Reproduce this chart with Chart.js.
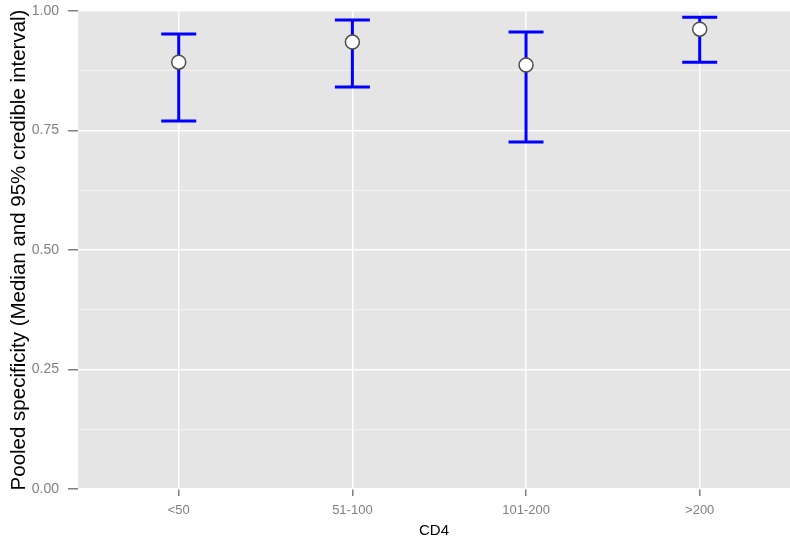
<!DOCTYPE html>
<html lang="en">

<head>
  <meta charset="UTF-8">
  <script src="https://cdn.jsdelivr.net/npm/chart.js@4.4.0/dist/chart.umd.min.js"></script>
  <style>
    body {
      margin: 0;
      background: #fff;
    }
  </style>
  <title>Pooled specificity by CD4</title>
</head>

<body>
  <canvas id="chart" width="790" height="541"></canvas>

  <script>
    // CD4 groups and the pooled specificity estimates
    const categories = ['<50', '51-100', '101-200', '>200'];
    const medians = [0.893, 0.935, 0.887, 0.962];
    const lower = [0.770, 0.841, 0.726, 0.893];
    const upper = [0.952, 0.981, 0.956, 0.987];

    const grey = '#7f7f7f';
    const font = "'Liberation Sans', Arial, sans-serif";
    const isMajor = function (v) { return Math.abs(v * 4 - Math.round(v * 4)) < 1e-6 };

    // grey panel like ggplot
    const panelBg = {
      id: 'panelBg',
      beforeDraw(chart) {
        const a = chart.chartArea;
        const ctx = chart.ctx;
        ctx.save();
        ctx.fillStyle = '#e5e5e5';
        ctx.fillRect(a.left, a.top, a.right - a.left, a.bottom - a.top);
        ctx.restore();
      }
    };

    // credible interval bars, drawn under the median points
    const errorBars = {
      id: 'errorBars',
      beforeDatasetsDraw(chart) {
        const ctx = chart.ctx;
        const xs = chart.scales.x;
        const ys = chart.scales.y;
        ctx.save();
        ctx.strokeStyle = '#0000ff';
        ctx.lineWidth = 3;
        categories.forEach(function (c, i) {
          const x = xs.getPixelForValue(i);
          const y0 = ys.getPixelForValue(lower[i]);
          const y1 = ys.getPixelForValue(upper[i]);
          const half = 17.5;
          ctx.beginPath();
          ctx.moveTo(x, y0);
          ctx.lineTo(x, y1);
          ctx.moveTo(x - half, y0);
          ctx.lineTo(x + half, y0);
          ctx.moveTo(x - half, y1);
          ctx.lineTo(x + half, y1);
          ctx.stroke();
        });
        ctx.restore();
      }
    };

    const config = {
      type: 'scatter',
      data: {
        datasets: [{
          data: medians.map(function (m, i) { return { x: i, y: m } }),
          backgroundColor: '#ffffff',
          borderColor: '#4d4d4d',
          borderWidth: 1.5,
          pointRadius: 7,
          pointHoverRadius: 7
        }]
      },
      options: {
        responsive: false,
        animation: false,
        layout: { autoPadding: false, padding: { top: 11, right: 0, left: 0, bottom: 0 } },
        plugins: {
          legend: { display: false },
          tooltip: { enabled: false }
        },
        scales: {
          x: {
            type: 'linear',
            min: -0.58,
            max: 3.52,
            afterBuildTicks: function (scale) {
              scale.ticks = categories.map(function (c, i) { return { value: i } });
            },
            afterFit: function (scale) {
              scale.height = 52;
              scale.paddingLeft = 0;
              scale.paddingRight = 0;
            },
            border: { display: false },
            grid: {
              color: '#ffffff',
              lineWidth: 1.5,
              tickColor: grey,
              tickLength: 7
            },
            ticks: {
              autoSkip: false,
              maxRotation: 0,
              color: grey,
              padding: 7,
              font: { family: font, size: 13 },
              callback: function (v) { return categories[v] }
            },
            title: {
              display: true,
              text: 'CD4',
              color: '#000000',
              font: { family: font, size: 15 },
              padding: { top: 0, bottom: 1 }
            }
          },
          y: {
            min: 0,
            max: 1,
            afterFit: function (scale) {
              scale.width = 78;
              scale.paddingTop = 0;
              scale.paddingBottom = 0;
            },
            border: { display: false },
            grid: {
              color: function (ctx) { return isMajor(ctx.tick.value) ? '#ffffff' : '#f2f2f2' },
              lineWidth: function (ctx) { return isMajor(ctx.tick.value) ? 1.5 : 1 },
              tickColor: function (ctx) { return isMajor(ctx.tick.value) ? grey : 'rgba(0,0,0,0)' },
              tickLength: 10
            },
            ticks: {
              stepSize: 0.125,
              autoSkip: false,
              color: grey,
              padding: 9,
              font: { family: font, size: 14 },
              callback: function (v) { return isMajor(v) ? v.toFixed(2) : '' }
            },
            title: {
              display: true,
              text: 'Pooled specificity (Median and 95% credible interval)',
              color: '#000000',
              font: { family: font, size: 20.5 },
              padding: { top: 7, bottom: 0 }
            }
          }
        }
      },
      plugins: [panelBg, errorBars]
    };

    const chart = new Chart(document.getElementById('chart'), config);
  </script>
</body>

</html>
